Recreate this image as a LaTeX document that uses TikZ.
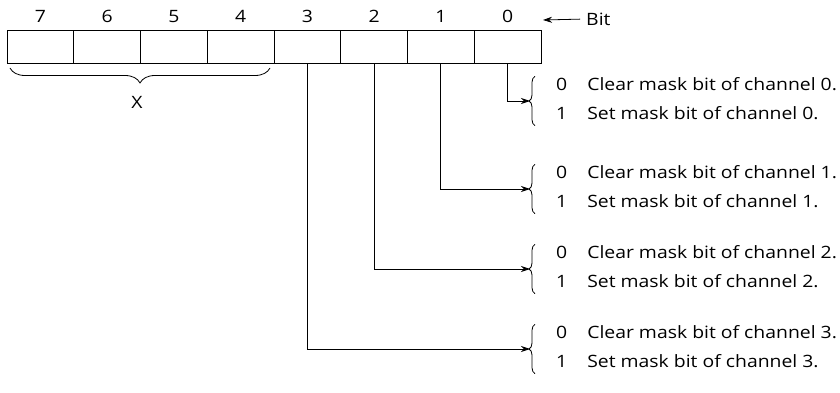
\documentclass[tikz,border=0pt]{standalone}
\usepackage{fontspec}
\setmainfont{Open Sans}[FakeStretch=1.14]
\usetikzlibrary{arrows.meta,decorations.pathreplacing}
\begin{document}
\begin{tikzpicture}[x=1pt,y=-1pt,
  font=\fontsize{17}{20}\selectfont,
  cell/.style={draw, line width=0.8pt, minimum width=66.75pt, minimum height=33.5pt, inner sep=0pt, outer sep=0pt},
  bitnum/.style={inner sep=0pt},
  conn/.style={line width=0.8pt, -{Stealth[length=9pt,width=6pt]}},
  desc/.style={inner sep=0pt, anchor=west, align=left},
  brc/.style={line width=0.8pt, decorate, decoration={brace, amplitude=6pt}},
  brcx/.style={line width=0.8pt, decorate, decoration={brace, mirror, amplitude=15pt}}]
\useasboundingbox (0,0) rectangle (840,393);
\foreach \i in {0,...,7} {
  \node[bitnum] (n\i) at ({541-33.375-66.75*\i},16.5) {\i};
  \node[cell] (c\i) at ({541-33.375-66.75*\i},46.75) {};
}
\node[bitnum, anchor=west] (bit) at (586,19) {Bit};
\coordinate (bt) at (543,20);
\draw[conn, shorten <=6pt] (bit.west) -- (bt);
% X brace
\coordinate (xa) at (10,68);
\coordinate (xb) at (270,68);
\draw[brcx] (xa) -- (xb);
\node[bitnum] (xl) at (137,102) {X};
% descriptions
\newcommand{\descline}[1]{\begin{tabular}{@{}l@{\hspace{20pt}}l@{}}0 & Clear mask bit of channel #1.\\[9pt] 1 & Set mask bit of channel #1.\end{tabular}}
\node[desc] (t0) at (556,101) {\descline{0}};
\node[desc] (t1) at (556,189) {\descline{1}};
\node[desc] (t2) at (556,269) {\descline{2}};
\node[desc] (t3) at (556,349) {\descline{3}};
\foreach \i in {0,...,3} {
  \draw[brc] ([xshift=-21pt]t\i.south west) -- ([xshift=-21pt]t\i.north west);
  \coordinate (p\i) at ([xshift=-26pt]t\i.west);
  \draw[conn] (c\i.south) |- (p\i);
}
\end{tikzpicture}
\end{document}
